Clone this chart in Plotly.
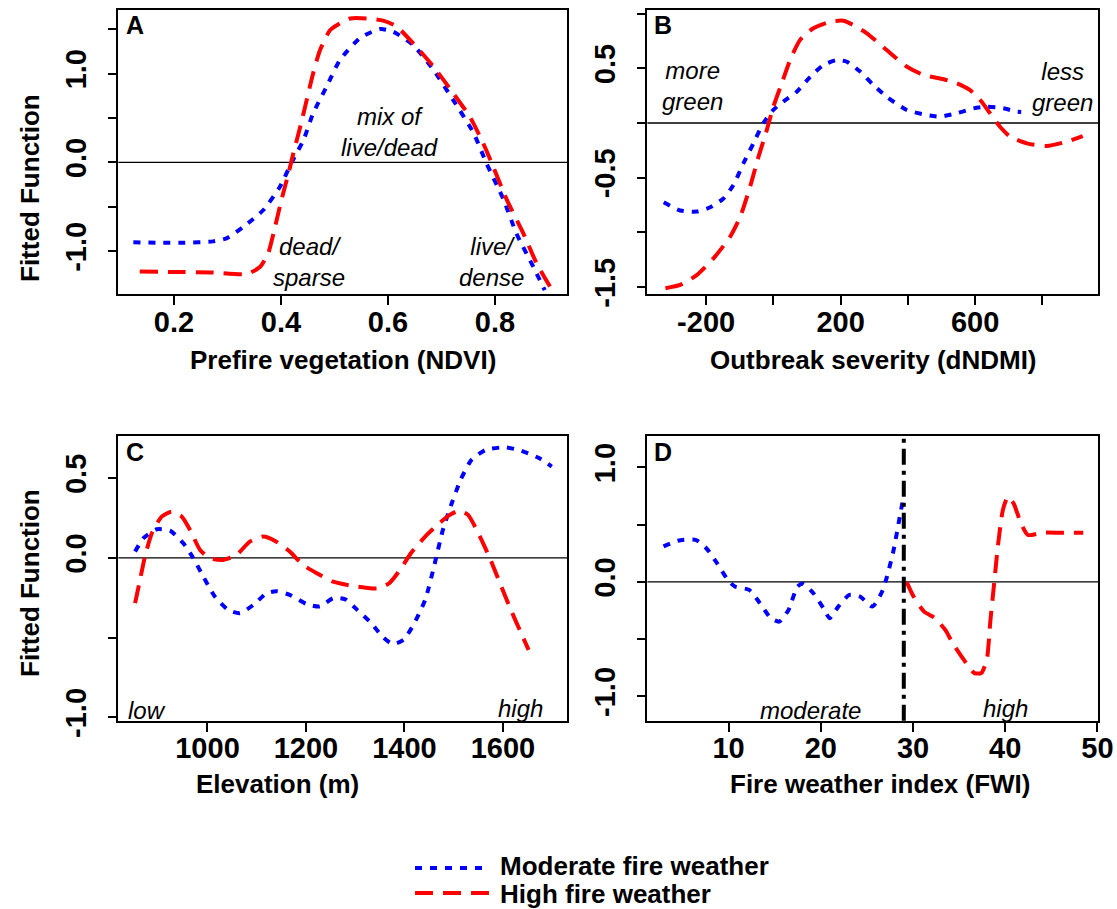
import plotly.graph_objects as go

W, H = 1117, 909
FONT = "Liberation Sans, Arial, Helvetica, sans-serif"
BLUE = "#0000FF"
RED = "#FF0000"

# ---------------- data ----------------
# A: prefire vegetation (NDVI)
ndvi_mod_x = [0.124, 0.17, 0.22, 0.273, 0.298, 0.330, 0.367, 0.398, 0.42, 0.442, 0.46, 0.485, 0.51,
              0.548, 0.585, 0.61, 0.647, 0.685, 0.722, 0.76, 0.784, 0.816, 0.84, 0.872, 0.893]
ndvi_mod_y = [-0.90, -0.905, -0.905, -0.89, -0.856, -0.725, -0.537, -0.275, 0.0, 0.25, 0.55, 0.85, 1.15,
              1.40, 1.50, 1.47, 1.32, 1.04, 0.70, 0.33, -0.01, -0.42, -0.80, -1.18, -1.44]
ndvi_high_x = [0.136, 0.2, 0.27, 0.336, 0.361, 0.376, 0.386, 0.401, 0.414, 0.423, 0.436, 0.448, 0.46,
               0.473, 0.492, 0.51, 0.529, 0.56, 0.591, 0.616, 0.647, 0.685, 0.722, 0.753, 0.778, 0.794,
               0.822, 0.853, 0.878, 0.903]
ndvi_high_y = [-1.23, -1.235, -1.24, -1.258, -1.176, -1.025, -0.80, -0.42, -0.124, 0.10, 0.40, 0.70, 1.0,
               1.265, 1.49, 1.565, 1.62, 1.62, 1.595, 1.53, 1.34, 1.077, 0.777, 0.513, 0.214, -0.01,
               -0.42, -0.80, -1.14, -1.40]

# B: outbreak severity (dNDMI)
dndmi_mod_x = [-326, -277, -228, -188, -148.5, -118.8, -89, -59.3, -29.6, 0, 29.8, 69.5, 109, 148.8,
               188.6, 218.4, 258, 297.5, 337, 396.8, 456, 496, 545.6, 595, 634.8, 684, 724, 737]
dndmi_mod_y = [-0.725, -0.80, -0.81, -0.77, -0.69, -0.567, -0.368, -0.186, 0.0, 0.12, 0.195, 0.286, 0.42,
               0.53, 0.576, 0.56, 0.47, 0.347, 0.24, 0.119, 0.073, 0.058, 0.089, 0.134, 0.149, 0.134,
               0.103, 0.10]
dndmi_high_x = [-321, -277, -228, -178, -128.6, -98.9, -69, -44.4, -19.5, 0, 25, 49.8, 79.5, 119, 168.8,
                208, 228, 278, 337, 397, 446, 506, 545.6, 585, 615, 644.6, 674, 704, 754, 813, 873, 920]
dndmi_high_y = [-1.51, -1.48, -1.39, -1.237, -1.04, -0.86, -0.58, -0.31, -0.064, 0.149, 0.363, 0.576,
                0.76, 0.866, 0.926, 0.935, 0.911, 0.82, 0.667, 0.515, 0.44, 0.40, 0.363, 0.30, 0.21,
                0.089, -0.034, -0.125, -0.186, -0.21, -0.17, -0.12]

# C: elevation (m)
elev_mod_x = [853, 870, 897, 924, 951, 971, 991.5, 1015, 1042, 1066, 1093, 1120, 1140, 1167, 1201, 1228,
              1255, 1280, 1304, 1333, 1355, 1376, 1398, 1420, 1442, 1460, 1478, 1496, 1514, 1536, 1565,
              1604, 1637, 1674, 1699]
elev_mod_y = [0.04, 0.124, 0.18, 0.171, 0.092, 0.0, -0.117, -0.243, -0.326, -0.347, -0.295, -0.222,
              -0.209, -0.232, -0.289, -0.305, -0.253, -0.26, -0.326, -0.41, -0.494, -0.54, -0.514,
              -0.41, -0.263, -0.054, 0.176, 0.343, 0.49, 0.615, 0.678, 0.694, 0.673, 0.625, 0.573]
elev_high_x = [853, 863, 873, 887, 907, 927, 948, 964.5, 985, 1005, 1032, 1059, 1086, 1113, 1140, 1167,
               1194, 1222, 1255, 1283, 1304, 1330, 1347, 1369, 1391, 1413, 1442, 1471, 1492, 1511, 1529,
               1550, 1572, 1594, 1616, 1634, 1652]
elev_high_y = [-0.284, -0.138, 0.008, 0.155, 0.259, 0.29, 0.259, 0.176, 0.05, -0.002, -0.0125, 0.019,
               0.102, 0.134, 0.102, 0.04, -0.044, -0.096, -0.149, -0.169, -0.18, -0.19, -0.19, -0.159,
               -0.075, 0.029, 0.134, 0.218, 0.27, 0.297, 0.27, 0.155, 0.008, -0.159, -0.326, -0.452,
               -0.577]

# D: fire weather index (FWI)
fwi_mod_x = [2.95, 4.5, 6.43, 7.59, 8.75, 9.92, 10.7, 12.24, 13.4, 14.57, 15.5, 16.5, 17.47, 18.06, 19.2,
             20.4, 20.95, 21.9, 23.1, 24.25, 25.6, 26.57, 27.18, 27.9, 28.5, 28.9]
fwi_mod_y = [0.31, 0.36, 0.367, 0.294, 0.163, 0.017, -0.041, -0.07, -0.186, -0.317, -0.347, -0.245,
             -0.041, -0.017, -0.099, -0.245, -0.317, -0.216, -0.114, -0.128, -0.216, -0.099, 0.046,
             0.28, 0.54, 0.716]
fwi_high_x = [29.3, 30.06, 31.2, 32.4, 33.5, 34.3, 35.5, 36.65, 37.4, 38.0, 38.4, 38.8, 39.2, 39.75, 40.3,
              40.9, 41.7, 42.46, 44.0, 46.0, 48.46]
fwi_high_y = [0.0, -0.128, -0.26, -0.317, -0.42, -0.535, -0.68, -0.797, -0.797, -0.68, -0.33, -0.012,
              0.31, 0.63, 0.745, 0.687, 0.513, 0.41, 0.43, 0.43, 0.43]
fwi_threshold = 29.0

series_names = ["Moderate fire weather", "High fire weather"]

# tick definitions
a_xticks = [0.2, 0.4, 0.6, 0.8]
a_xlabels = ["0.2", "0.4", "0.6", "0.8"]
a_yticks = [-1.0, -0.5, 0.0, 0.5, 1.0, 1.5]
a_ylabels = ["-1.0", "", "0.0", "", "1.0", ""]
b_xticks = [-200, 0, 200, 400, 600, 800]
b_xlabels = ["-200", "", "200", "", "600", ""]
b_yticks = [-1.5, -1.0, -0.5, 0.0, 0.5, 1.0]
b_ylabels = ["-1.5", "", "-0.5", "", "0.5", ""]
c_xticks = [1000, 1200, 1400, 1600]
c_xlabels = ["1000", "1200", "1400", "1600"]
c_yticks = [-1.0, -0.5, 0.0, 0.5]
c_ylabels = ["-1.0", "", "0.0", "0.5"]
d_xticks = [10, 20, 30, 40, 50]
d_xlabels = ["10", "20", "30", "40", "50"]
d_yticks = [-1.0, -0.5, 0.0, 0.5, 1.0]
d_ylabels = ["-1.0", "", "0.0", "", "1.0"]

# ---------------- layout geometry ----------------
def px(x):
    return x / W

def py(y):
    return 1 - y / H

LEFT_DOM = [px(118.3), px(567)]
RIGHT_DOM = [px(647.4), px(1098.2)]
TOP_DOM = [py(294.3), py(10)]
BOT_DOM = [py(720.8), py(436)]

MOD_DASH = "7px,8px"
HIGH_DASH = "18px,10px"

fig = go.Figure()

panels = [
    (1, ndvi_mod_x, ndvi_mod_y, ndvi_high_x, ndvi_high_y),
    (2, dndmi_mod_x, dndmi_mod_y, dndmi_high_x, dndmi_high_y),
    (3, elev_mod_x, elev_mod_y, elev_high_x, elev_high_y),
    (4, fwi_mod_x, fwi_mod_y, fwi_high_x, fwi_high_y),
]
for k, xm, ym, xh, yh in panels:
    xa = "x" if k == 1 else f"x{k}"
    ya = "y" if k == 1 else f"y{k}"
    fig.add_trace(go.Scatter(x=xm, y=ym, mode="lines", name=series_names[0], showlegend=False,
                             xaxis=xa, yaxis=ya, hoverinfo="skip",
                             line=dict(color=BLUE, width=4, dash=MOD_DASH, shape="spline", smoothing=0.6)))
    fig.add_trace(go.Scatter(x=xh, y=yh, mode="lines", name=series_names[1], showlegend=False,
                             xaxis=xa, yaxis=ya, hoverinfo="skip",
                             line=dict(color=RED, width=4, dash=HIGH_DASH, shape="spline", smoothing=0.6)))

tickfont = dict(family=FONT, size=29, color="black", weight="bold")

def xaxis(domain, rng, tv, tt, anchor):
    return dict(domain=domain, range=rng, anchor=anchor, tickvals=tv, ticktext=tt, tickangle=0,
                showline=True, mirror=True, linecolor="black", linewidth=1.5,
                ticks="outside", ticklen=9, tickwidth=1.5, tickcolor="black",
                showgrid=False, zeroline=False, tickfont=tickfont, automargin=False,
                ticklabelstandoff=-8, fixedrange=True)

def yaxis(domain, rng, tv, tt, anchor):
    return dict(domain=domain, range=rng, anchor=anchor, tickvals=tv, ticktext=tt, tickangle=-90,
                showline=True, mirror=True, linecolor="black", linewidth=1.5,
                ticks="outside", ticklen=9, tickwidth=1.5, tickcolor="black",
                showgrid=False, zeroline=False, tickfont=tickfont, automargin=False,
                ticklabelstandoff=10, fixedrange=True)

fig.update_layout(
    width=W, height=H, margin=dict(l=0, r=0, t=0, b=0),
    paper_bgcolor="white", plot_bgcolor="white", showlegend=False,
    xaxis=xaxis(LEFT_DOM, [0.0959, 0.9346], a_xticks, a_xlabels, "y"),
    yaxis=yaxis(TOP_DOM, [-1.486, 1.715], a_yticks, a_ylabels, "x"),
    xaxis2=xaxis(RIGHT_DOM, [-374.6, 966], b_xticks, b_xlabels, "y2"),
    yaxis2=yaxis(TOP_DOM, [-1.566, 1.033], b_yticks, b_ylabels, "x2"),
    xaxis3=xaxis(LEFT_DOM, [818.9, 1730], c_xticks, c_xlabels, "y3"),
    yaxis3=yaxis(BOT_DOM, [-1.022, 0.765], c_yticks, c_ylabels, "x3"),
    xaxis4=xaxis(RIGHT_DOM, [1.2, 50.08], d_xticks, d_xlabels, "y4"),
    yaxis4=yaxis(BOT_DOM, [-1.214, 1.275], d_yticks, d_ylabels, "x4"),
)

shapes = []
for k in range(1, 5):
    xa = "x" if k == 1 else f"x{k}"
    ya = "y" if k == 1 else f"y{k}"
    shapes.append(dict(type="line", xref=f"{xa} domain", x0=0, x1=1, yref=ya, y0=0, y1=0,
                       line=dict(color="black", width=1.3), layer="below"))
shapes.append(dict(type="line", xref="x4", x0=fwi_threshold, x1=fwi_threshold, yref="y4 domain", y0=0, y1=1,
                   line=dict(color="black", width=4, dash="16px,6px,4px,6px")))
# legend samples
shapes.append(dict(type="line", xref="paper", yref="paper", x0=px(415), x1=px(490), y0=py(868), y1=py(868),
                   line=dict(color=BLUE, width=4, dash=MOD_DASH)))
shapes.append(dict(type="line", xref="paper", yref="paper", x0=px(415), x1=px(490), y0=py(893), y1=py(893),
                   line=dict(color=RED, width=4, dash=HIGH_DASH)))
fig.update_layout(shapes=shapes)

ann = []

def text(x, y, s, size, bold=False, italic=False, xanchor="center", angle=0):
    ann.append(dict(x=px(x), y=py(y), xref="paper", yref="paper", text=s, showarrow=False,
                    xanchor=xanchor, yanchor="middle", textangle=angle,
                    font=dict(family=FONT, size=size, color="black",
                              weight="bold" if bold else "normal",
                              style="italic" if italic else "normal")))

# panel letters
text(135, 25, "A", 25, bold=True)
text(663, 25, "B", 25, bold=True)
text(135, 452, "C", 25, bold=True)
text(663, 452, "D", 25, bold=True)
# in-panel labels
text(390, 132, "mix of<br>live/dead", 24, italic=True)
text(309, 262, "dead/<br>sparse", 24, italic=True)
text(491, 262, "live/<br>dense", 24, italic=True)
text(692, 86, "more<br>green", 24, italic=True)
text(1062, 87, "less<br>green", 24, italic=True)
text(126, 710, "low", 24, italic=True, xanchor="left")
text(545, 708, "high", 24, italic=True, xanchor="right")
text(810, 710, "moderate", 24, italic=True)
text(1005, 708, "high", 24, italic=True)
# axis titles
text(343, 360, "Prefire vegetation (NDVI)", 26, bold=True)
text(873, 360, "Outbreak severity (dNDMI)", 26, bold=True)
text(277, 784, "Elevation (m)", 26, bold=True)
text(880, 784, "Fire weather index (FWI)", 26, bold=True)
text(30, 188, "Fitted Function", 26, bold=True, angle=-90)
text(30, 583, "Fitted Function", 26, bold=True, angle=-90)
# legend labels
text(498, 866, series_names[0], 26, bold=True, xanchor="left")
text(498, 894, series_names[1], 26, bold=True, xanchor="left")

fig.update_layout(annotations=ann)

fig.write_html("out.html")
